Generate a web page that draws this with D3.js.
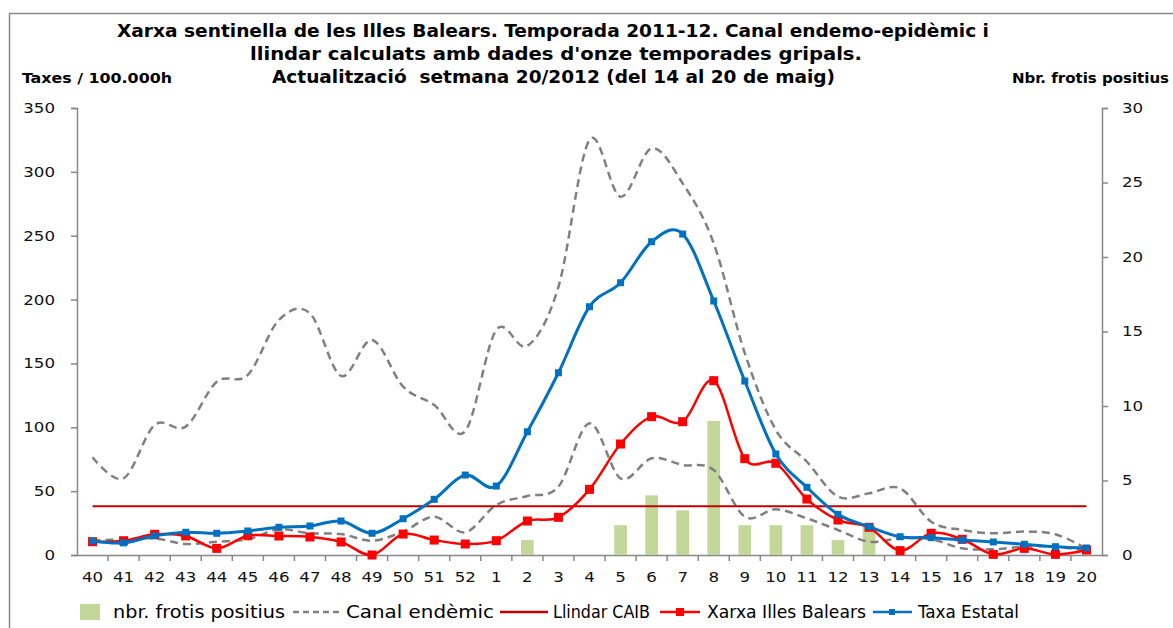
<!DOCTYPE html>
<html>
<head>
<meta charset="utf-8">
<script src="https://cdn.jsdelivr.net/npm/d3@7"></script>
<style>
  body { margin: 0; background: #fff; }
  svg { display: block; }
  .narrow { font-family: "Liberation Sans Narrow", "DejaVu Sans Condensed", "Arial Narrow", sans-serif; }
  .title { white-space: pre; }
  .tick-label { font-family: "DejaVu Sans", Verdana, sans-serif; font-size: 14px; fill: #111; }
</style>
</head>
<body>
<svg id="chart" width="1173" height="628"></svg>
<script>
// Weeks of the 2011-12 season
const weeks = ['40','41','42','43','44','45','46','47','48','49','50','51','52',
  '1','2','3','4','5','6','7','8','9','10','11','12','13','14','15','16','17','18','19','20'];

// nbr. frotis positius (right axis)
const frotis = [0,0,0,0,0,0,0,0,0,0,0,0,0, 0,1,0,0,2,4,3,9,2,2,2,1,2,0,0,0,0,0,0,0];

// Canal endèmic, upper and lower limits
const canalUpper = [76.5,60,101.8,100.5,135.7,141,184,189.2,140.2,168.4,131.8,117.5,97.1,
  176.2,163.7,210,325,280.5,318.4,291,244,158,97.9,73,45.7,48.3,52.2,26.1,19.6,17,18.3,16.2,5];
const canalLower = [11.2,12.3,13,8.6,10.4,12.3,20.1,17,16.4,11.2,18.3,30,17.8,
  39.2,46.2,53.5,103.1,60,75.7,70.5,66.5,30,35.8,28.7,19.6,10.4,13,12.3,5.2,4.5,6.5,6.5,3.4];

// Llindar CAIB
const llindar = 38.1;

// Xarxa Illes Balears
const xarxa = [10.4,11.2,16.2,14.9,5.2,15.1,14.9,14.1,10.2,0,16.4,11.7,8.6,
  11.2,26.6,29.5,51.4,86.9,108.3,104.4,136.5,75.4,71.8,43.8,27.4,21.7,3.4,17,12.3,0.5,5.2,0.5,3.9];

// Taxa Estatal
const estatal = [11,9.5,15,17.8,17,18.8,21.7,22.7,26.6,17,28.4,43.6,62.6,
  54,96.5,142.7,194.4,213.2,245.3,251.3,198.9,136.2,79.1,53,31.8,22.2,14.3,13.6,11.7,10.2,8.4,6.5,5.5];

const leftTicks = [0,50,100,150,200,250,300,350];
const rightTicks = [0,5,10,15,20,25,30];

const titleLines = [
  { text: "Xarxa sentinella de les Illes Balears. Temporada 2011-12. Canal endemo-epidèmic i", x: 117, w: 872 },
  { text: "llindar calculats amb dades d'onze temporades gripals.", x: 250, w: 612 },
  { text: "Actualització  setmana 20/2012 (del 14 al 20 de maig)", x: 272, w: 563 }
];

const svg = d3.select('#chart');
const plotLeft = 77, plotRight = 1102, plotTop = 108, plotBottom = 555;

const x = d3.scaleBand().domain(weeks).range([plotLeft, plotRight]);
const cx = w => x(w) + x.bandwidth() / 2;
const y = d3.scaleLinear().domain([0, 350]).range([plotBottom, plotTop]);
const y2 = d3.scaleLinear().domain([0, 30]).range([plotBottom, plotTop]);

// outer frame
svg.append('rect')
  .attr('x', 9.5).attr('y', 13.5).attr('width', 1200).attr('height', 700)
  .attr('fill', 'none').attr('stroke', '#888').attr('stroke-width', 1.5);

// title
svg.append('g').selectAll('text').data(titleLines).join('text')
  .attr('class', 'narrow title')
  .attr('x', d => d.x).attr('y', (d, i) => 37 + i * 23)
  .attr('font-weight', 'bold').attr('font-size', 17)
  .attr('fill', '#000')
  .attr('textLength', d => d.w).attr('lengthAdjust', 'spacingAndGlyphs')
  .text(d => d.text);

svg.append('text').attr('class', 'narrow')
  .attr('x', 22).attr('y', 83).attr('font-weight', 'bold').attr('font-size', 14)
  .attr('textLength', 150).attr('lengthAdjust', 'spacingAndGlyphs')
  .text('Taxes / 100.000h');
svg.append('text').attr('class', 'narrow')
  .attr('x', 1012).attr('y', 83)
  .attr('font-weight', 'bold').attr('font-size', 14)
  .attr('textLength', 157).attr('lengthAdjust', 'spacingAndGlyphs')
  .text('Nbr. frotis positius');

// axes
const axisColor = '#888';
const gl = svg.append('g').attr('transform', `translate(${plotLeft},0)`)
  .call(d3.axisLeft(y).tickValues(leftTicks).tickSize(6).tickPadding(16));
const gr = svg.append('g').attr('transform', `translate(${plotRight},0)`)
  .call(d3.axisRight(y2).tickValues(rightTicks).tickSize(6).tickPadding(14));
const gx = svg.append('g').attr('transform', `translate(0,${plotBottom})`)
  .call(d3.axisBottom(x).tickSize(0).tickPadding(17));
[gl, gr, gx].forEach(g => {
  g.select('.domain').attr('stroke', axisColor).attr('stroke-width', 1.5);
  g.selectAll('.tick line').attr('stroke', axisColor).attr('stroke-width', 1.5);
  g.selectAll('text').attr('class', 'tick-label')
    .attr('textLength', function() { return this.textContent.length * 10.6; })
    .attr('lengthAdjust', 'spacingAndGlyphs');
  g.attr('font-size', null).attr('font-family', null);
});
gx.select('.domain').attr('d', `M${plotLeft},0.5H${plotRight}`);
// x tick marks at band boundaries
gx.append('g').selectAll('line').data(weeks.slice(1)).join('line')
  .attr('x1', d => x(d)).attr('x2', d => x(d))
  .attr('y1', 0).attr('y2', 6)
  .attr('stroke', axisColor).attr('stroke-width', 1.5);

// bars
const barW = x.bandwidth() * 0.41;
svg.append('g').selectAll('rect').data(weeks).join('rect')
  .attr('x', d => cx(d) - barW / 2)
  .attr('y', (d, i) => y2(frotis[i]))
  .attr('width', barW)
  .attr('height', (d, i) => plotBottom - y2(frotis[i]))
  .attr('fill', '#C4D79B');

const curve = d3.curveCardinal.tension(0);
const line = (vals) => d3.line().curve(curve)
  .x((d, i) => cx(weeks[i])).y(d => y(d))(vals);

// canal endèmic
[canalUpper, canalLower].forEach(vals => {
  svg.append('path').attr('d', line(vals))
    .attr('fill', 'none').attr('stroke', '#808080')
    .attr('stroke-width', 2.5).attr('stroke-dasharray', '8,5');
});

// llindar
svg.append('line')
  .attr('x1', cx(weeks[0])).attr('x2', cx(weeks[weeks.length - 1]))
  .attr('y1', y(llindar)).attr('y2', y(llindar))
  .attr('stroke', '#C00000').attr('stroke-width', 2);

// Xarxa Illes Balears
svg.append('path').attr('d', line(xarxa))
  .attr('fill', 'none').attr('stroke', '#FF0000').attr('stroke-width', 2.5);
svg.append('g').selectAll('rect').data(xarxa).join('rect')
  .attr('x', (d, i) => cx(weeks[i]) - 4.5).attr('y', d => y(d) - 4.5)
  .attr('width', 9).attr('height', 9).attr('fill', '#FF0000');

// Taxa Estatal
svg.append('path').attr('d', line(estatal))
  .attr('fill', 'none').attr('stroke', '#0070C0').attr('stroke-width', 3);
svg.append('g').selectAll('rect').data(estatal).join('rect')
  .attr('x', (d, i) => cx(weeks[i]) - 3.5).attr('y', d => y(d) - 3.5)
  .attr('width', 7).attr('height', 7).attr('fill', '#0070C0');

// legend
const lg = svg.append('g');
const ly = 612;
lg.append('rect').attr('x', 80).attr('y', ly - 8).attr('width', 20).attr('height', 16).attr('fill', '#C4D79B');
lg.append('line').attr('x1', 293).attr('x2', 340).attr('y1', ly).attr('y2', ly)
  .attr('stroke', '#808080').attr('stroke-width', 2.5).attr('stroke-dasharray', '6,4');
lg.append('line').attr('x1', 500).attr('x2', 548).attr('y1', ly).attr('y2', ly)
  .attr('stroke', '#C00000').attr('stroke-width', 2.5);
lg.append('line').attr('x1', 660).attr('x2', 700).attr('y1', ly).attr('y2', ly)
  .attr('stroke', '#FF0000').attr('stroke-width', 2.5);
lg.append('rect').attr('x', 676).attr('y', ly - 4).attr('width', 8).attr('height', 8).attr('fill', '#FF0000');
lg.append('line').attr('x1', 873).attr('x2', 912).attr('y1', ly).attr('y2', ly)
  .attr('stroke', '#0070C0').attr('stroke-width', 2.5);
lg.append('rect').attr('x', 889).attr('y', ly - 3).attr('width', 6).attr('height', 6).attr('fill', '#0070C0');

const legendItems = [
  { label: 'nbr. frotis positius', x: 113, w: 172 },
  { label: 'Canal endèmic', x: 346, w: 148 },
  { label: 'Llindar CAIB', x: 553, w: 97 },
  { label: 'Xarxa Illes Balears', x: 707, w: 159 },
  { label: 'Taxa Estatal', x: 918, w: 101 }
];
lg.selectAll('text.leg').data(legendItems).join('text')
  .attr('class', 'narrow leg')
  .attr('x', d => d.x).attr('y', ly + 6)
  .attr('font-size', 17).attr('fill', '#000')
  .attr('textLength', d => d.w).attr('lengthAdjust', 'spacingAndGlyphs')
  .text(d => d.label);
</script>
</body>
</html>
